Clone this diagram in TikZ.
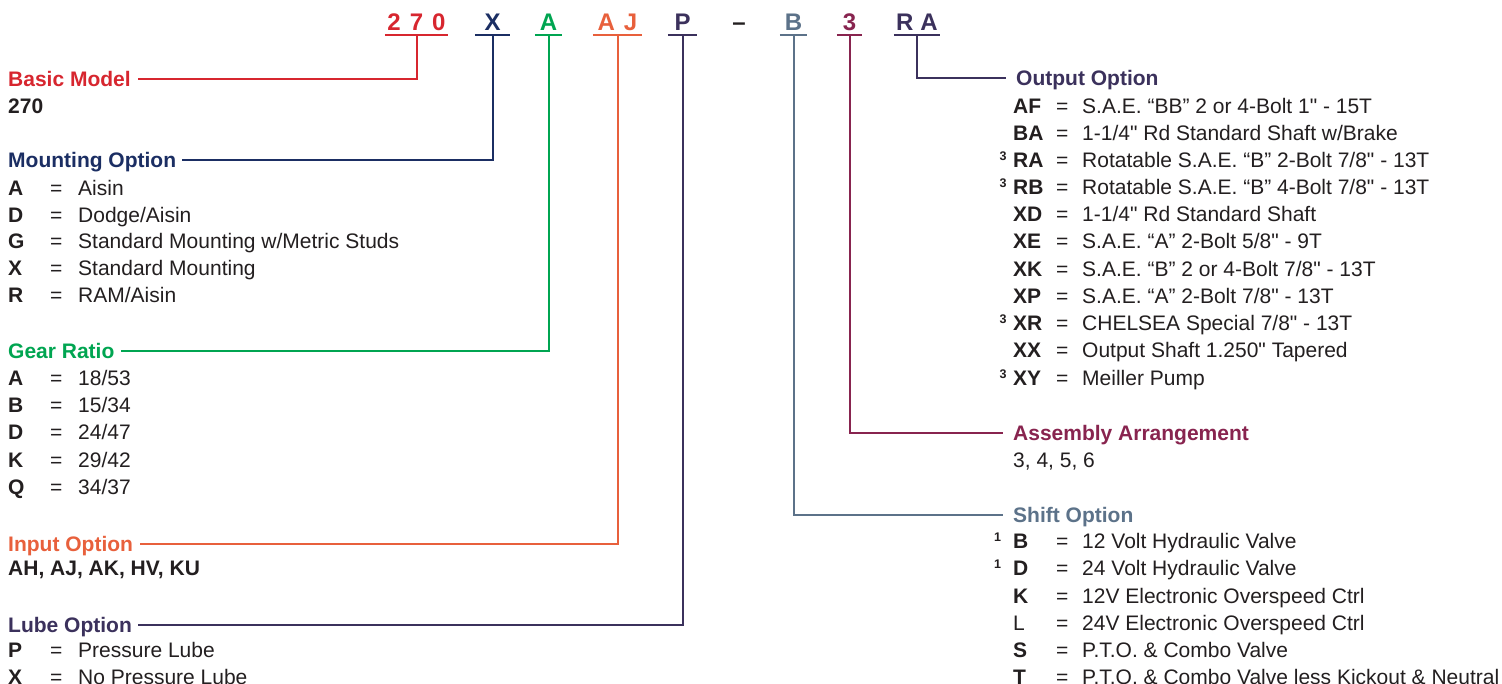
\documentclass[tikz,border=0pt]{standalone}
\usepackage{fontspec}
\setmainfont{Liberation Sans}
\newfontfamily\plainsans{Liberation Sans}
\newcommand\inch{{\plainsans"}}
\definecolor{cred}{HTML}{D7262F}
\definecolor{cnavy}{HTML}{1B2E63}
\definecolor{cgreen}{HTML}{00A551}
\definecolor{corange}{HTML}{E8603C}
\definecolor{cpurp}{HTML}{3B315C}
\definecolor{cslate}{HTML}{5C7289}
\definecolor{cmaroon}{HTML}{88244F}
\definecolor{ink}{HTML}{231F20}
\newcommand\myL[4]{%
 \node[rowcode] (#1c) at (8,#2) {#3};
 \node[rowtxt] (#1e) at (50,#2) {=};
 \node[rowtxt] (#1v) at (78,#2) {#4};}
\newcommand\myR[4]{%
 \node[rowcode] (#1c) at (1013,#2) {#3};
 \node[rowtxt] (#1e) at (1056,#2) {=};
 \node[rowtxt] (#1v) at (1082,#2) {#4};}
\begin{document}
\begin{tikzpicture}[x=1pt,y=-1pt,
 conn/.style={line width=2pt},
 code/.style={font=\fontsize{24}{24}\selectfont\bfseries, anchor=base, inner xsep=0pt, inner ysep=5pt, text depth=0pt},
 head/.style={font=\fontsize{21}{21}\selectfont\bfseries, anchor=base west, inner sep=0pt, text height=15pt, text depth=0pt},
 rowtxt/.style={font=\fontsize{21}{21}\selectfont, text=ink, anchor=base west, inner sep=0pt},
 rowcode/.style={rowtxt, font=\fontsize{21}{21}\selectfont\bfseries},
 supr/.style={font=\fontsize{12.5}{12.5}\selectfont\bfseries, text=ink, anchor=base west, inner sep=0pt}]
\useasboundingbox[fill=white] (0,0) rectangle (1502,683);

% code row
\node[code, text=cred, minimum width=63pt] (c270) at (416.5,30) {2\hspace{9pt}7\hspace{9pt}0};
\node[code, text=cnavy, minimum width=35pt] (cX) at (492.5,30) {X};
\node[code, text=cgreen, minimum width=27pt] (cA) at (548.5,30) {A};
\node[code, text=corange, minimum width=49pt] (cAJ) at (617.5,30) {A\hspace{9pt}J};
\node[code, text=cpurp, minimum width=29pt] (cP) at (682.5,30) {P};
\node[code, text=ink] (cDash) at (739,30) {–};
\node[code, text=cslate, minimum width=27pt] (cB) at (793.5,30) {B};
\node[code, text=cmaroon, minimum width=25pt] (c3) at (849.5,30) {3};
\node[code, text=cpurp, minimum width=46pt] (cRA) at (917,30) {R\hspace{7pt}A};
\foreach \n/\c in {c270/cred,cX/cnavy,cA/cgreen,cAJ/corange,cP/cpurp,cB/cslate,c3/cmaroon,cRA/cpurp}
  \draw[conn,\c] (\n.south west) -- (\n.south east);

% left headings
\node[head, text=cred] (hBasic) at (8,86) {Basic Model};
\node[head, text=cnavy] (hMount) at (8,167) {Mounting Option};
\node[head, text=cgreen] (hGear) at (8,358) {Gear Ratio};
\node[head, text=corange] (hInput) at (8,551) {Input Option};
\node[head, text=cpurp] (hLube) at (8,632) {Lube Option};
% right headings
\node[head, text=cpurp] (hOut) at (1016,85) {Output Option};
\node[head, text=cmaroon] (hAsm) at (1013,440) {Assembly Arrangement};
\node[head, text=cslate] (hShift) at (1013,522) {Shift Option};

% connectors
\draw[conn,cred] (c270.south) |- ([xshift=7pt]hBasic.east);
\draw[conn,cnavy] (cX.south) |- ([xshift=6pt]hMount.east);
\draw[conn,cgreen] (cA.south) |- ([xshift=6pt]hGear.east);
\draw[conn,corange] (cAJ.south) |- ([xshift=7pt]hInput.east);
\draw[conn,cpurp] (cP.south) |- ([xshift=6pt]hLube.east);
\draw[conn,cpurp] (cRA.south) |- ([xshift=-10pt]hOut.west);
\draw[conn,cmaroon] (c3.south) |- ([xshift=-10pt]hAsm.west);
\draw[conn,cslate] (cB.south) |- ([xshift=-10pt]hShift.west);

% left rows
\node[rowcode] (bm1) at (8,113) {270};
\myL{m1}{195}{A}{Aisin}
\myL{m2}{222}{D}{Dodge/Aisin}
\myL{m3}{248}{G}{Standard Mounting w/Metric Studs}
\myL{m4}{275}{X}{Standard Mounting}
\myL{m5}{302}{R}{RAM/Aisin}
\myL{g1}{385}{A}{18/53}
\myL{g2}{412}{B}{15/34}
\myL{g3}{439}{D}{24/47}
\myL{g4}{467}{K}{29/42}
\myL{g5}{494}{Q}{34/37}
\node[rowcode] (in1) at (8,575) {AH, AJ, AK, HV, KU};
\myL{l1}{657}{P}{Pressure Lube}
\myL{l2}{684}{X}{No Pressure Lube}

% right rows
\myR{o1}{113}{AF}{S.A.E. “BB” 2 or 4-Bolt 1\inch{} - 15T}
\myR{o2}{140}{BA}{1-1/4\inch{} Rd Standard Shaft w/Brake}
\myR{o3}{167}{RA}{Rotatable S.A.E. “B” 2-Bolt 7/8\inch{} - 13T}
\myR{o4}{194}{RB}{Rotatable S.A.E. “B” 4-Bolt 7/8\inch{} - 13T}
\myR{o5}{221}{XD}{1-1/4\inch{} Rd Standard Shaft}
\myR{o6}{248}{XE}{S.A.E. “A” 2-Bolt 5/8\inch{} - 9T}
\myR{o7}{276}{XK}{S.A.E. “B” 2 or 4-Bolt 7/8\inch{} - 13T}
\myR{o8}{303}{XP}{S.A.E. “A” 2-Bolt 7/8\inch{} - 13T}
\myR{o9}{330}{XR}{CHELSEA Special 7/8\inch{} - 13T}
\myR{o10}{357}{XX}{Output Shaft 1.250\inch{} Tapered}
\myR{o11}{385}{XY}{Meiller Pump}
\node[supr] (o3s) at (999.5,160) {3};
\node[supr] (o4s) at (999.5,187) {3};
\node[supr] (o9s) at (999.5,323) {3};
\node[supr] (o11s) at (999.5,378) {3};

\node[rowtxt] (a1) at (1013,467) {3, 4, 5, 6};

\myR{s1}{548}{B}{12 Volt Hydraulic Valve}
\myR{s2}{575}{D}{24 Volt Hydraulic Valve}
\myR{s3}{603}{K}{12V Electronic Overspeed Ctrl}
\myR{s4}{630}{\mdseries L}{24V Electronic Overspeed Ctrl}
\myR{s5}{657}{S}{P.T.O. \& Combo Valve}
\myR{s6}{684}{T}{P.T.O. \& Combo Valve less Kickout \& Neutral}
\node[supr] (s1s) at (994,541) {1};
\node[supr] (s2s) at (994,568) {1};
\end{tikzpicture}
\end{document}
